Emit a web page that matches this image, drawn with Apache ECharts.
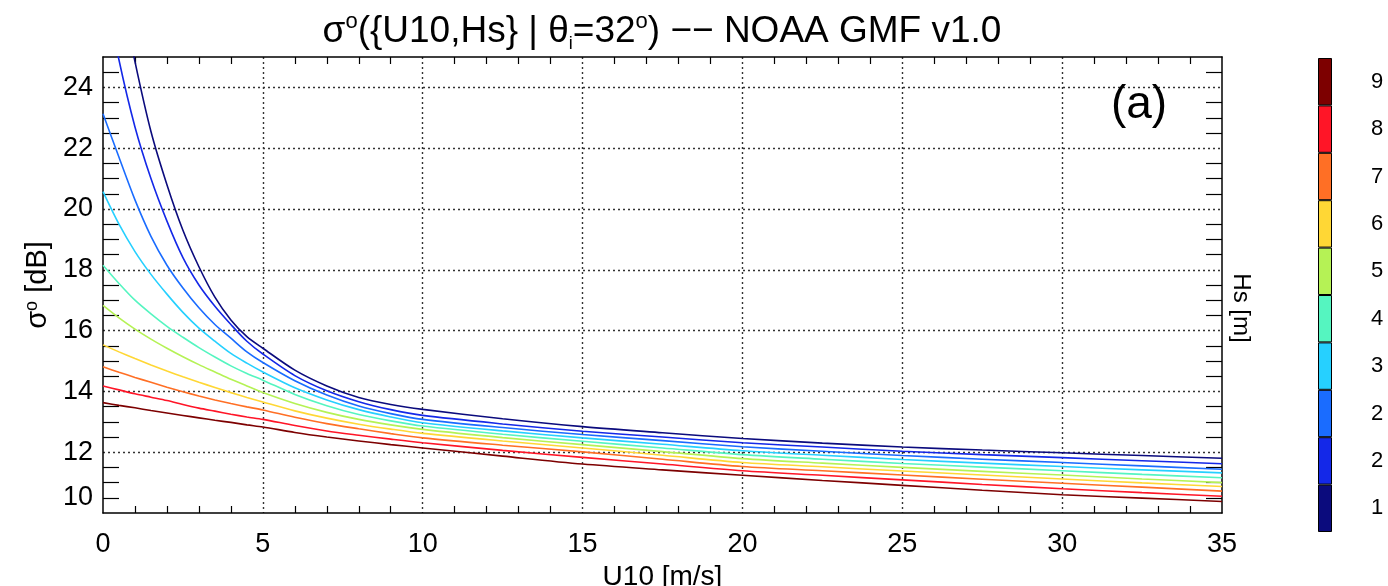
<!DOCTYPE html>
<html><head><meta charset="utf-8">
<script src="https://cdn.jsdelivr.net/npm/echarts@6/dist/echarts.min.js"></script>
<style>html,body{margin:0;padding:0;background:#fff}#c{width:1388px;height:586px}</style>
</head><body><div id="c"></div>
<script>
// ---- data ----
const u10 = [0,0.5,1,1.5,2,2.5,3,3.5,4,4.5,5,6,7,8,9,10,12.5,15,17.5,20,22.5,25,27.5,30,32.5,35];
const hsLabels = ['1','2','2','3','4','5','6','7','8','9'];
const hsColors = ['#0b0b7d','#1428e8','#1a6cff','#26d0ff','#55f5c0','#b5f255','#ffd735','#ff6f25','#ff1527','#7d0000'];
const sigmaHs1 = [31.5,27.5,24.85,22.55,20.8,19.3,18.1,17.1,16.35,15.8,15.42,14.7,14.18,13.8,13.57,13.41,13.1,12.84,12.64,12.45,12.3,12.17,12.07,11.98,11.89,11.8];
const sigmaHs2 = [27.6,24.9,22.7,21.0,19.6,18.4,17.5,16.8,16.2,15.65,15.23,14.52,14.02,13.66,13.4,13.21,12.93,12.69,12.5,12.31,12.17,12.03,11.92,11.82,11.72,11.62];
const sigmaHs3 = [23.13,21.7,20.3,19.1,18.15,17.4,16.75,16.2,15.75,15.3,14.95,14.35,13.88,13.52,13.27,13.08,12.81,12.58,12.38,12.18,12.03,11.89,11.77,11.66,11.55,11.44];
const sigmaHs4 = [20.57,19.5,18.6,17.85,17.2,16.6,16.08,15.65,15.25,14.93,14.64,14.12,13.72,13.4,13.16,12.97,12.7,12.47,12.26,12.05,11.9,11.76,11.64,11.53,11.42,11.32];
const sigmaHs5 = [18.15,17.55,17.0,16.55,16.14,15.78,15.44,15.13,14.84,14.59,14.37,13.9,13.53,13.24,13.03,12.86,12.59,12.36,12.14,11.92,11.77,11.63,11.51,11.39,11.27,11.16];
const sigmaHs6 = [16.83,16.42,16.05,15.72,15.42,15.14,14.88,14.64,14.4,14.18,13.96,13.6,13.31,13.08,12.9,12.75,12.48,12.25,12.02,11.79,11.64,11.5,11.37,11.25,11.12,11.0];
const sigmaHs7 = [15.53,15.3,15.08,14.87,14.67,14.48,14.3,14.13,13.96,13.8,13.65,13.36,13.12,12.92,12.76,12.62,12.37,12.14,11.9,11.66,11.52,11.38,11.25,11.12,10.99,10.87];
const sigmaHs8 = [14.81,14.63,14.46,14.3,14.14,13.99,13.85,13.72,13.6,13.49,13.39,13.15,12.94,12.77,12.61,12.47,12.23,12.01,11.77,11.53,11.39,11.25,11.11,10.98,10.85,10.72];
const sigmaHs9 = [14.18,14.05,13.92,13.81,13.7,13.57,13.45,13.35,13.25,13.16,13.08,12.88,12.7,12.56,12.43,12.31,12.06,11.83,11.61,11.39,11.24,11.09,10.94,10.8,10.67,10.55];
const sigmaHs10 = [13.63,13.54,13.46,13.37,13.29,13.21,13.13,13.05,12.98,12.9,12.83,12.65,12.5,12.37,12.25,12.14,11.87,11.61,11.42,11.24,11.07,10.91,10.75,10.6,10.49,10.38];
const allSigma = [sigmaHs1,sigmaHs2,sigmaHs3,sigmaHs4,sigmaHs5,sigmaHs6,sigmaHs7,sigmaHs8,sigmaHs9,sigmaHs10];
const xMinorTicks = [1,2,3,4,6,7,8,9,11,12,13,14,16,17,18,19,21,22,23,24,26,27,28,29,31,32,33,34];
const yMinorTicks = [10.5,11,11.5,12.5,13,13.5,14.5,15,15.5,16.5,17,17.5,18.5,19,19.5,20.5,21,21.5,22.5,23,23.5,24.5];
const yMin = 10, yMax = 25, yStep = 2, xMin = 0, xMax = 35, xStep = 5;

// ---- chart ----
const FF = '"Liberation Sans", Arial, Helvetica, sans-serif';
const chart = echarts.init(document.getElementById('c'), null, {renderer:'canvas'});
const axLine = {show:true, onZero:false, lineStyle:{color:'#000', width:1.5}};
const dotted = {show:true, showMinLine:false, showMaxLine:false, lineStyle:{type:[2,3], color:'#333', width:1.4}};
const tickLine = {color:'#000', width:1.2};

const series = allSigma.map((arr, i) => ({
  type:'line', xAxisIndex:0, yAxisIndex:0,
  data: u10.map((u, j) => [u, arr[j]]),
  symbol:'none', smooth:0.3, clip:true,
  lineStyle:{color:hsColors[i], width:1.6}, z: 3
}));
series.push({
  type:'bar', xAxisIndex:3, yAxisIndex:3,
  data: hsLabels.map((l, i) => ({value:1, itemStyle:{color:hsColors[i]}})),
  barCategoryGap:'0%', itemStyle:{borderColor:'#000', borderWidth:1}, silent:true
});

chart.setOption({
  animation:false,
  backgroundColor:'#fff',
  grid:[
    {left:103, top:57, width:1119, height:456, outerBoundsMode:'none', containLabel:false},
    {left:1318, top:58, width:14, height:474, outerBoundsMode:'none', containLabel:false}
  ],
  xAxis:[
    {gridIndex:0, type:'value', min:xMin, max:xMax, interval:xStep, position:'bottom',
     axisLine:axLine, axisTick:{show:false},
     axisLabel:{fontSize:27, color:'#000', margin:18, fontFamily:FF},
     splitLine:dotted,
     name:'U10 [m/s]', nameLocation:'middle', nameGap:42,
     nameTextStyle:{fontSize:28, color:'#000', fontFamily:FF}},
    {gridIndex:0, type:'value', min:xMin, max:xMax, interval:xStep, position:'bottom',
     axisLine:{show:false}, axisTick:{show:true, inside:true, length:7, customValues:xMinorTicks, lineStyle:tickLine},
     axisLabel:{show:false}, splitLine:{show:false}},
    {gridIndex:0, type:'value', min:xMin, max:xMax, interval:xStep, position:'top',
     axisLine:axLine, axisTick:{show:true, inside:true, length:7, customValues:xMinorTicks, lineStyle:tickLine},
     axisLabel:{show:false}, splitLine:{show:false}},
    {gridIndex:1, type:'value', min:0, max:1, show:false}
  ],
  yAxis:[
    {gridIndex:0, type:'value', min:yMin, max:yMax, interval:yStep, position:'left',
     axisLine:axLine, axisTick:{show:false},
     axisLabel:{fontSize:27, color:'#000', margin:10, fontFamily:FF, showMaxLabel:false,
       formatter:(v) => v === yMin ? '{lo|' + v + '}' : String(v),
       rich:{lo:{fontSize:27, color:'#000', fontFamily:FF, padding:[0,0,30,0]}}},
     splitLine:dotted,
     name:'σ{sup|o} [dB]', nameLocation:'middle', nameGap:40, nameRotate:90,
     nameTextStyle:{fontSize:29, color:'#000', fontFamily:FF,
       rich:{sup:{fontSize:18, fontFamily:FF, color:'#000', verticalAlign:'top', lineHeight:18}}}},
    {gridIndex:0, type:'value', min:yMin, max:yMax, interval:yStep, position:'left',
     axisLine:{show:false}, axisTick:{show:true, inside:true, length:16, customValues:yMinorTicks, lineStyle:tickLine},
     axisLabel:{show:false}, splitLine:{show:false}},
    {gridIndex:0, type:'value', min:yMin, max:yMax, interval:yStep, position:'right',
     axisLine:axLine, axisTick:{show:true, inside:true, length:16, customValues:yMinorTicks, lineStyle:tickLine},
     axisLabel:{show:false}, splitLine:{show:false}},
    {gridIndex:1, type:'category', data:hsLabels, position:'right',
     axisLine:{show:false}, axisTick:{show:false},
     axisLabel:{fontSize:22, color:'#000', margin:39, fontFamily:FF}}
  ],
  graphic:[
    {type:'text', x:662, y:32, z:10,
     style:{text:'σ{sup|o}({U10,Hs} | θ{sub|i}=32{sup|o}) −− NOAA GMF v1.0',
       font:'37px '+FF, fill:'#000', align:'center', verticalAlign:'middle', lineHeight:42,
       rich:{sup:{fontSize:22, fontFamily:FF, fill:'#000', verticalAlign:'top', lineHeight:22},
             sub:{fontSize:18, fontFamily:FF, fill:'#000', verticalAlign:'bottom', lineHeight:18}}}},
    {type:'text', x:1139, y:105, z:10,
     style:{text:'(a)', font:'46px '+FF, fill:'#000', align:'center', verticalAlign:'middle'}},
    {type:'text', x:1241, y:308, rotation:-Math.PI/2, z:10,
     style:{text:'Hs [m]', font:'24px '+FF, fill:'#000', align:'center', verticalAlign:'middle'}}
  ],
  series: series
});
</script>
</body></html>
